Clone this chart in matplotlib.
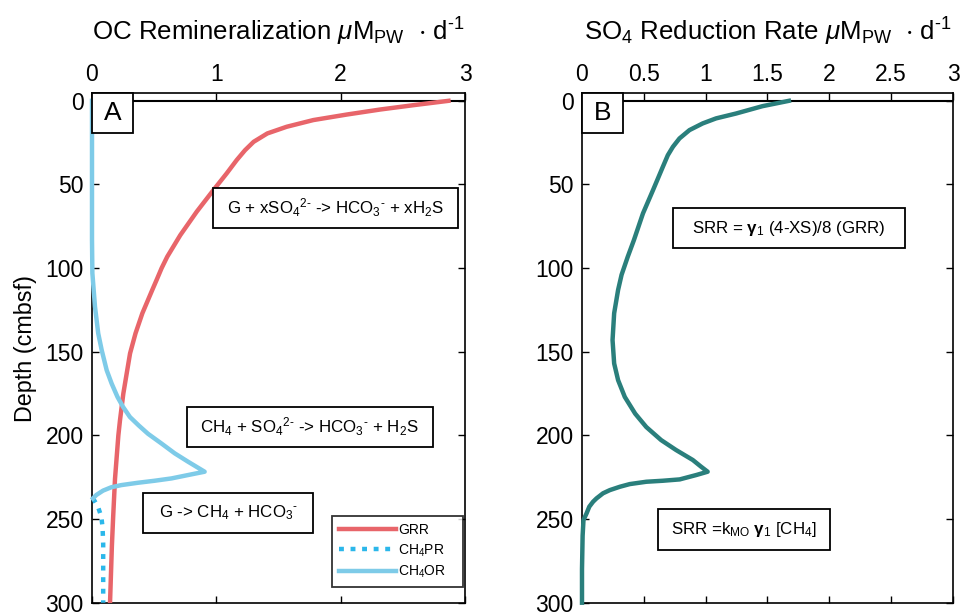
import matplotlib
matplotlib.use("Agg")
import matplotlib.pyplot as plt
from matplotlib.patches import Rectangle

plt.rcParams['font.family'] = ['Liberation Sans', 'DejaVu Sans']
plt.rcParams['mathtext.fontset'] = 'custom'
plt.rcParams['mathtext.rm'] = 'Liberation Sans'
plt.rcParams['mathtext.it'] = 'Liberation Sans:italic'
plt.rcParams['mathtext.bf'] = 'Liberation Sans:bold'
plt.rcParams['mathtext.default'] = 'regular'

# ---------------- data ----------------
depth_grr = [0, 2.6, 5.2, 8.2, 11.5, 15.5, 19.5, 24.5, 29.5, 35.4, 43.4, 53.4, 66.3,
             80.3, 93.2, 100, 107, 113, 120, 127, 139, 151, 163, 175, 191, 200, 226,
             249, 266, 300]
grr = [2.867, 2.585, 2.317, 2.049, 1.78, 1.566, 1.41, 1.30, 1.231, 1.164, 1.083,
       0.976, 0.842, 0.71, 0.605, 0.56, 0.52, 0.485, 0.445, 0.405, 0.35, 0.306,
       0.279, 0.252, 0.225, 0.212, 0.185, 0.17, 0.16, 0.145]

depth_ch4or = [0, 50, 83, 103, 123, 139, 149, 161, 169, 177, 183, 189, 194, 199,
               204.8, 210.7, 215.7, 221.7, 223.7, 225.7, 227.1, 228.3, 229.7, 231,
               233, 235.6, 237.6]
ch4or = [0, 0, 0, 0.003, 0.024, 0.05, 0.078, 0.118, 0.158, 0.205, 0.25, 0.305,
         0.375, 0.45, 0.558, 0.665, 0.772, 0.906, 0.772, 0.64, 0.504, 0.37, 0.236,
         0.155, 0.089, 0.035, 0.008]

depth_ch4pr = [237.6, 242.6, 248.6, 255, 265, 280, 300]
ch4pr = [0.008, 0.048, 0.075, 0.085, 0.09, 0.09, 0.09]

depth_srr = [0, 3.2, 7.6, 10.5, 13.5, 17.5, 22.5, 27.5, 32.5, 39.4, 53.4, 67.3, 83.2,
             93.2, 104, 113, 127, 143, 157, 167, 177, 187, 195, 202.8, 208.7, 211.7,
             214.7, 218.7, 221.7, 223.7, 226.3, 227.1, 227.7, 229.1, 230.7, 232.7,
             234.6, 237.6, 239.6, 242.6, 246.6, 250.6, 260, 280, 300]
srr = [1.673, 1.459, 1.245, 1.084, 0.976, 0.869, 0.788, 0.735, 0.694, 0.654, 0.574,
       0.493, 0.42, 0.37, 0.32, 0.292, 0.26, 0.247, 0.26, 0.292, 0.346, 0.43, 0.52,
       0.64, 0.76, 0.828, 0.896, 0.963, 1.016, 0.923, 0.79, 0.654, 0.52, 0.386,
       0.306, 0.225, 0.17, 0.118, 0.09, 0.059, 0.037, 0.012, 0.005, 0.0, 0.0]

xticks_a = [0, 1, 2, 3]
xticks_b = [0, 0.5, 1, 1.5, 2, 2.5, 3]
xticklabels_b = ['0', '0.5', '1', '1.5', '2', '2.5', '3']
yticks = [0, 50, 100, 150, 200, 250, 300]

c_grr = '#E8656A'
c_ch4pr = '#2BB7EA'
c_ch4or = '#7ECBE8'
c_srr = '#2A7F7C'

HY = '\u2010'  # short hyphen as in the reference superscripts

fig = plt.figure(figsize=(9.62, 6.13), dpi=100)
axA = fig.add_axes([92/962, 10.3/613, 373/962, 509.4/613])
axB = fig.add_axes([582/962, 10.3/613, 371/962, 509.4/613])

TICK_FS = 16.5
TITLE_FS = 18.6

for ax in (axA, axB):
    ax.set_xlim(0, 3)
    ax.set_ylim(300, -4.5)
    ax.set_yticks(yticks)
    ax.tick_params(axis='both', which='both', direction='in', length=5, width=1,
                   top=True, bottom=True, left=True, right=True,
                   labeltop=True, labelbottom=False, labelsize=TICK_FS)
    ax.tick_params(axis='x', pad=5)
    ax.tick_params(axis='y', pad=6)
    for s in ax.spines.values():
        s.set_linewidth(1.2)
    ax.axhline(0, color='black', lw=1.5, zorder=1)

axA.set_xticks(xticks_a)
axB.set_xticks(xticks_b)
axB.set_xticklabels(xticklabels_b)

# Panel A curves
axA.plot(grr, depth_grr, color=c_grr, lw=3.2, label='GRR', zorder=3,
         solid_joinstyle='round')
axA.plot(ch4pr, depth_ch4pr, color=c_ch4pr, lw=3.2, ls=(0, (1.1, 1.5)),
         label='CH$_4$PR', zorder=3, clip_on=False)
axA.plot(ch4or, depth_ch4or, color=c_ch4or, lw=3.2, label='CH$_4$OR', zorder=3,
         clip_on=False, solid_joinstyle='round')

# Panel B curve
axB.plot(srr, depth_srr, color=c_srr, lw=3.2, zorder=3, clip_on=False,
         solid_joinstyle='round')

axA.set_title(r'OC Remineralization $\mathit{\mu}$M$_{PW}$  $\cdot$ d$^{' + HY + '1}$',
              fontsize=TITLE_FS, pad=38)
axB.set_title(r'SO$_4$ Reduction Rate $\mathit{\mu}$M$_{PW}$  $\cdot$ d$^{' + HY + '1}$',
              fontsize=TITLE_FS, pad=38)
axA.set_ylabel('Depth (cmbsf)', fontsize=16.8, labelpad=6)

def boxed(ax, x0, x1, y0, y1, txt, fs):
    ax.add_patch(Rectangle((x0, y0), x1 - x0, y1 - y0, transform=ax.transAxes,
                           facecolor='white', edgecolor='black', lw=1.3, zorder=5,
                           clip_on=False))
    ax.text((x0 + x1) / 2, (y0 + y1) / 2, txt, transform=ax.transAxes,
            ha='center', va='center', fontsize=fs, zorder=6)

boxed(axA, 0.0, 0.110, 0.922, 1.0, 'A', 19)
boxed(axB, 0.0, 0.110, 0.922, 1.0, 'B', 19)

EQ_FS = 12.2
boxed(axA, 0.3236, 0.981, 0.736, 0.814,
      r'G + xSO$_4$$^{2' + HY + r'}$ -> HCO$_3$$^{' + HY + r'}$ + xH$_2$S', EQ_FS)
boxed(axA, 0.254, 0.913, 0.306, 0.384,
      r'CH$_4$ + SO$_4$$^{2' + HY + r'}$ -> HCO$_3$$^{' + HY + r'}$ + H$_2$S', EQ_FS)
boxed(axA, 0.137, 0.5925, 0.1368, 0.2154,
      r'G -> CH$_4$ + HCO$_3$$^{' + HY + r'}$', EQ_FS)
boxed(axB, 0.244, 0.8705, 0.696, 0.775,
      r'SRR = $\mathbf{\gamma}_1$ (4-XS)/8 (GRR)', EQ_FS)
boxed(axB, 0.204, 0.669, 0.1034, 0.184,
      r'SRR =k$_{MO}$ $\mathbf{\gamma}_1$ [CH$_4$]', EQ_FS)

leg = axA.legend(loc='lower left', bbox_to_anchor=(0.6426, 0.030, 0.3512, 0.1376),
                 mode='expand', borderaxespad=0,
                 fontsize=10, handlelength=4.1, handletextpad=0.15, labelspacing=0.35,
                 frameon=True, fancybox=False, borderpad=0.55)
leg.get_frame().set_edgecolor('black')
leg.get_frame().set_linewidth(1.3)
leg.set_zorder(7)

fig.savefig('out.png', dpi=100)
